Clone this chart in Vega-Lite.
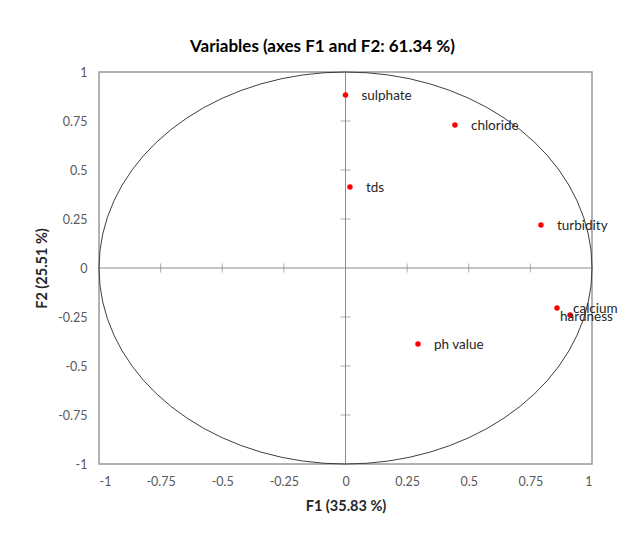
{
  "$schema": "https://vega.github.io/schema/vega-lite/v6.json",
  "width": 493,
  "height": 392,
  "autosize": "none",
  "padding": {"left": 99, "top": 72, "right": 39, "bottom": 76},
  "background": "white",
  "title": {
    "text": "Variables (axes F1 and F2: 61.34 %)",
    "font": "Lato",
    "fontSize": 17,
    "fontWeight": "bold",
    "color": "#000000",
    "anchor": "middle",
    "frame": "group",
    "dx": -23,
    "offset": 10
  },
  "config": {
    "view": {"stroke": null},
    "axis": {
      "grid": false,
      "ticks": false,
      "tickSize": 0,
      "domain": false,
      "labelFont": "Lato",
      "labelFontSize": 12.5,
      "labelColor": "#595959",
      "titleFont": "Lato",
      "titleFontSize": 14.5,
      "titleFontWeight": "bold",
      "titleColor": "#262626"
    }
  },
  "datasets": {
    "vars": [
      {"name": "sulphate", "F1": 0.0, "F2": 0.883},
      {"name": "chloride", "F1": 0.444, "F2": 0.73},
      {"name": "tds", "F1": 0.018, "F2": 0.413},
      {"name": "turbidity", "F1": 0.793, "F2": 0.219},
      {"name": "calcium", "F1": 0.858, "F2": -0.204},
      {"name": "hardness", "F1": 0.911, "F2": -0.24},
      {"name": "ph value", "F1": 0.294, "F2": -0.388}
    ],
    "zero": [{"v": 0}],
    "box": [{"lo": -1, "hi": 1}],
    "ticks": [{"v": -0.75}, {"v": -0.5}, {"v": -0.25}, {"v": 0.25}, {"v": 0.5}, {"v": 0.75}],
    "circle": [
      {"i": 0, "x": 1, "y": 0},
      {"i": 1, "x": 0.9962, "y": 0.0872},
      {"i": 2, "x": 0.9848, "y": 0.1736},
      {"i": 3, "x": 0.9659, "y": 0.2588},
      {"i": 4, "x": 0.9397, "y": 0.342},
      {"i": 5, "x": 0.9063, "y": 0.4226},
      {"i": 6, "x": 0.866, "y": 0.5},
      {"i": 7, "x": 0.8192, "y": 0.5736},
      {"i": 8, "x": 0.766, "y": 0.6428},
      {"i": 9, "x": 0.7071, "y": 0.7071},
      {"i": 10, "x": 0.6428, "y": 0.766},
      {"i": 11, "x": 0.5736, "y": 0.8192},
      {"i": 12, "x": 0.5, "y": 0.866},
      {"i": 13, "x": 0.4226, "y": 0.9063},
      {"i": 14, "x": 0.342, "y": 0.9397},
      {"i": 15, "x": 0.2588, "y": 0.9659},
      {"i": 16, "x": 0.1736, "y": 0.9848},
      {"i": 17, "x": 0.0872, "y": 0.9962},
      {"i": 18, "x": 0, "y": 1},
      {"i": 19, "x": -0.0872, "y": 0.9962},
      {"i": 20, "x": -0.1736, "y": 0.9848},
      {"i": 21, "x": -0.2588, "y": 0.9659},
      {"i": 22, "x": -0.342, "y": 0.9397},
      {"i": 23, "x": -0.4226, "y": 0.9063},
      {"i": 24, "x": -0.5, "y": 0.866},
      {"i": 25, "x": -0.5736, "y": 0.8192},
      {"i": 26, "x": -0.6428, "y": 0.766},
      {"i": 27, "x": -0.7071, "y": 0.7071},
      {"i": 28, "x": -0.766, "y": 0.6428},
      {"i": 29, "x": -0.8192, "y": 0.5736},
      {"i": 30, "x": -0.866, "y": 0.5},
      {"i": 31, "x": -0.9063, "y": 0.4226},
      {"i": 32, "x": -0.9397, "y": 0.342},
      {"i": 33, "x": -0.9659, "y": 0.2588},
      {"i": 34, "x": -0.9848, "y": 0.1736},
      {"i": 35, "x": -0.9962, "y": 0.0872},
      {"i": 36, "x": -1, "y": 0},
      {"i": 37, "x": -0.9962, "y": -0.0872},
      {"i": 38, "x": -0.9848, "y": -0.1736},
      {"i": 39, "x": -0.9659, "y": -0.2588},
      {"i": 40, "x": -0.9397, "y": -0.342},
      {"i": 41, "x": -0.9063, "y": -0.4226},
      {"i": 42, "x": -0.866, "y": -0.5},
      {"i": 43, "x": -0.8192, "y": -0.5736},
      {"i": 44, "x": -0.766, "y": -0.6428},
      {"i": 45, "x": -0.7071, "y": -0.7071},
      {"i": 46, "x": -0.6428, "y": -0.766},
      {"i": 47, "x": -0.5736, "y": -0.8192},
      {"i": 48, "x": -0.5, "y": -0.866},
      {"i": 49, "x": -0.4226, "y": -0.9063},
      {"i": 50, "x": -0.342, "y": -0.9397},
      {"i": 51, "x": -0.2588, "y": -0.9659},
      {"i": 52, "x": -0.1736, "y": -0.9848},
      {"i": 53, "x": -0.0872, "y": -0.9962},
      {"i": 54, "x": 0, "y": -1},
      {"i": 55, "x": 0.0872, "y": -0.9962},
      {"i": 56, "x": 0.1736, "y": -0.9848},
      {"i": 57, "x": 0.2588, "y": -0.9659},
      {"i": 58, "x": 0.342, "y": -0.9397},
      {"i": 59, "x": 0.4226, "y": -0.9063},
      {"i": 60, "x": 0.5, "y": -0.866},
      {"i": 61, "x": 0.5736, "y": -0.8192},
      {"i": 62, "x": 0.6428, "y": -0.766},
      {"i": 63, "x": 0.7071, "y": -0.7071},
      {"i": 64, "x": 0.766, "y": -0.6428},
      {"i": 65, "x": 0.8192, "y": -0.5736},
      {"i": 66, "x": 0.866, "y": -0.5},
      {"i": 67, "x": 0.9063, "y": -0.4226},
      {"i": 68, "x": 0.9397, "y": -0.342},
      {"i": 69, "x": 0.9659, "y": -0.2588},
      {"i": 70, "x": 0.9848, "y": -0.1736},
      {"i": 71, "x": 0.9962, "y": -0.0872},
      {"i": 72, "x": 1, "y": 0}
    ]
  },
  "layer": [
    {
      "data": {"name": "box"},
      "mark": {"type": "rect", "fill": "white", "fillOpacity": 0, "stroke": "#999999", "strokeWidth": 1.5},
      "encoding": {
        "x": {
          "field": "lo", "type": "quantitative",
          "scale": {"domain": [-1, 1], "nice": false, "zero": false},
          "axis": {"values": [-1, -0.75, -0.5, -0.25, 0, 0.25, 0.5, 0.75, 1], "labelExpr": "'' + datum.value", "title": "F1 (35.83 %)", "labelPadding": 11, "titlePadding": 12}
        },
        "x2": {"field": "hi"},
        "y": {
          "field": "lo", "type": "quantitative",
          "scale": {"domain": [-1, 1], "nice": false, "zero": false},
          "axis": {"values": [-1, -0.75, -0.5, -0.25, 0, 0.25, 0.5, 0.75, 1], "labelExpr": "'' + datum.value", "title": "F2 (25.51 %)", "labelPadding": 12, "titlePadding": 8}
        },
        "y2": {"field": "hi"}
      }
    },
    {
      "data": {"name": "zero"},
      "mark": {"type": "rule", "color": "#8c8c8c", "strokeWidth": 1},
      "encoding": {"x": {"field": "v", "type": "quantitative"}}
    },
    {
      "data": {"name": "zero"},
      "mark": {"type": "rule", "color": "#8c8c8c", "strokeWidth": 1},
      "encoding": {"y": {"field": "v", "type": "quantitative"}}
    },
    {
      "data": {"name": "ticks"},
      "mark": {"type": "tick", "orient": "horizontal", "color": "#8c8c8c", "size": 10, "thickness": 1},
      "encoding": {
        "x": {"datum": 0, "type": "quantitative"},
        "y": {"field": "v", "type": "quantitative"}
      }
    },
    {
      "data": {"name": "ticks"},
      "mark": {"type": "tick", "orient": "vertical", "color": "#8c8c8c", "size": 9, "thickness": 1},
      "encoding": {
        "x": {"field": "v", "type": "quantitative"},
        "y": {"datum": 0, "type": "quantitative"}
      }
    },
    {
      "data": {"name": "circle"},
      "mark": {"type": "line", "color": "#404040", "strokeWidth": 1},
      "encoding": {
        "x": {"field": "x", "type": "quantitative"},
        "y": {"field": "y", "type": "quantitative"},
        "order": {"field": "i", "type": "quantitative"}
      }
    },
    {
      "data": {"name": "vars"},
      "mark": {"type": "circle", "color": "#ff0000", "size": 30, "opacity": 1},
      "encoding": {
        "x": {"field": "F1", "type": "quantitative"},
        "y": {"field": "F2", "type": "quantitative"}
      }
    },
    {
      "data": {"name": "vars"},
      "transform": [{"filter": "datum.name !== 'hardness'"}],
      "mark": {"type": "text", "align": "left", "baseline": "middle", "dx": 16, "dy": 1, "font": "Lato", "fontSize": 13.5, "color": "#262626"},
      "encoding": {
        "x": {"field": "F1", "type": "quantitative"},
        "y": {"field": "F2", "type": "quantitative"},
        "text": {"field": "name"}
      }
    },
    {
      "data": {"name": "vars"},
      "transform": [{"filter": "datum.name === 'hardness'"}],
      "mark": {"type": "text", "align": "left", "baseline": "middle", "dx": -10, "dy": 2, "font": "Lato", "fontSize": 13.5, "color": "#262626"},
      "encoding": {
        "x": {"field": "F1", "type": "quantitative"},
        "y": {"field": "F2", "type": "quantitative"},
        "text": {"field": "name"}
      }
    }
  ]
}
